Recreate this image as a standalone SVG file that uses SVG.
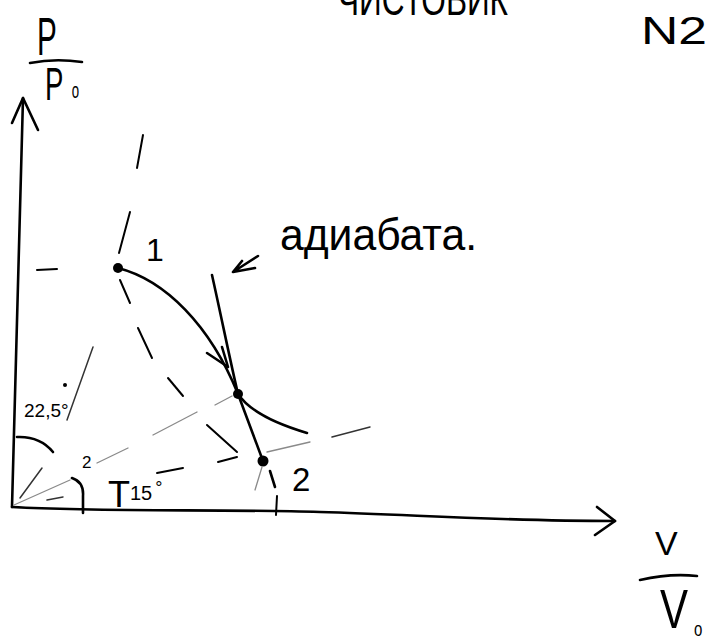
<svg xmlns="http://www.w3.org/2000/svg" width="710" height="639" viewBox="0 0 710 639">
<style>
 .ink{fill:none;stroke:#000;stroke-width:2.6;stroke-linecap:round;stroke-linejoin:round}
 .pen{fill:none;stroke:#000;stroke-width:2;stroke-linecap:round}
 .mid{fill:none;stroke:#333;stroke-width:1.5;stroke-linecap:round}
 .faint{fill:none;stroke:#8a8a8a;stroke-width:1.3;stroke-linecap:round}
 .t{font-family:"Liberation Sans","DejaVu Sans",sans-serif;fill:#000}
 .dot{fill:#000}
</style>
<rect width="710" height="639" fill="#fff"/>

<g id="header">
 <text class="t" x="338" y="15" font-size="44" textLength="170" lengthAdjust="spacingAndGlyphs">ЧИСТОВИК</text>
 <text class="t" x="641" y="44" font-size="38" textLength="66" lengthAdjust="spacingAndGlyphs">N2</text>
</g>

<g id="axes">
 <path class="ink" d="M12,507 C14,460 18,300 23,98"/>
 <path class="ink" d="M12,123 L23,98 L38,130"/>
 <path class="ink" d="M12,507 C100,512 220,509 320,512 S500,521 615,521"/>
 <path class="ink" d="M597,507 L615,521 L595,535"/>
 <path class="pen" d="M277,496 L276,515"/>
 <path class="pen" d="M37,270 L57,269"/>
</g>

<g id="axis-labels">
 <text class="t" font-size="54" transform="translate(37 55) scale(0.55 1)">P</text>
 <path class="ink" d="M30,63 Q55,58 82,62"/>
 <text class="t" font-size="46" transform="translate(45 100) scale(0.6 1)">P<tspan font-size="22" dx="14" dy="-2">o</tspan></text>
 <text class="t" x="655" y="555" font-size="34">V</text>
 <path class="ink" d="M640,580 Q670,573 697,576"/>
 <text class="t" font-size="56" transform="translate(660 628) scale(0.75 1)">V<tspan font-size="20" dx="8" dy="8">o</tspan></text>
</g>

<g id="angles">
 <path class="ink" d="M17,437 Q40,436 53,452"/>
 <text class="t" x="24" y="417" font-size="19">22,5°</text>
 <path class="ink" d="M72,478 Q84,482 83,496 L83,513"/>
 <text class="t" x="82" y="468" font-size="17">2</text>
 <text class="t" x="108" y="507" font-size="36">T<tspan font-size="20" dy="-7">15</tspan><tspan font-size="18" dx="3" dy="-6">°</tspan></text>
 <circle class="dot" cx="65" cy="385" r="2"/>
</g>

<g id="point-1">
 <circle class="dot" cx="118" cy="268" r="5"/>
 <text class="t" x="146" y="261" font-size="32">1</text>
</g>
<g id="point-i">
 <circle class="dot" cx="238" cy="394" r="5"/>
</g>
<g id="point-2">
 <circle class="dot" cx="263" cy="461" r="5.5"/>
 <text class="t" x="292" y="491" font-size="33">2</text>
</g>

<g id="adiabat-label">
 <text class="t" x="280" y="250" font-size="44" textLength="197" lengthAdjust="spacingAndGlyphs">адиабата.</text>
 <path class="ink" d="M258,256 L233,272 M255,268 L233,272 L242,261"/>
</g>

<g id="connectors">
 <path class="ink" d="M118,268 C165,280 210,325 238,394 C250,412 280,425 307,433"/>
 <path class="ink" d="M207,353 L228,367 L222,347"/>
 <path class="ink" d="M212,275 C222,320 230,360 238,394 L263,461"/>
 <path class="ink" d="M270,471 L275,487"/>
 <g id="isotherm">
  <path class="pen" d="M143,135 L137,168"/>
  <path class="pen" d="M130,212 L119,253"/>
  <path class="pen" d="M120,280 L130,303"/>
  <path class="pen" d="M138,328 L152,358"/>
  <path class="pen" d="M168,378 L183,396"/>
  <path class="pen" d="M207,425 L237,452"/>
 </g>
 <g id="ray-steep">
  <path class="mid" d="M67,420 L93,347"/>
  <path class="mid" d="M20,498 L42,468"/>
 </g>
 <g id="ray-mid">
  <path class="faint" d="M14,505 L70,480"/>
  <path class="faint" d="M97,463 L128,448"/>
  <path class="faint" d="M153,435 L197,412"/>
  <path class="faint" d="M215,405 L232,396"/>
 </g>
 <g id="ray-low">
  <path class="mid" d="M47,500 L63,497"/>
  <path class="pen" d="M157,473 L183,468"/>
  <path class="pen" d="M218,462 L237,457"/>
  <path class="faint" d="M267,452 L310,442"/>
  <path class="mid" d="M332,437 L370,427"/>
 </g>
 <path class="faint" d="M262,467 L255,490"/>
</g>
</svg>
